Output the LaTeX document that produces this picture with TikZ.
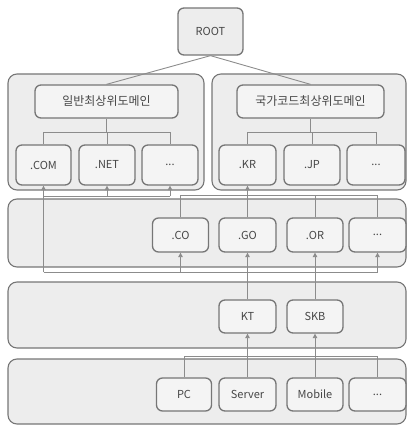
\documentclass[tikz,border=0pt]{standalone}
\usepackage{fontspec}
\setmainfont{Noto Sans CJK KR}
\usetikzlibrary{arrows.meta}
\definecolor{layerfill}{HTML}{EDEDED}
\definecolor{nodefill}{HTML}{F4F4F4}
\definecolor{edgegray}{HTML}{767676}
\definecolor{linegray}{HTML}{8C8C8C}

\begin{document}
\begin{tikzpicture}[x=1pt,y=-1pt,
  layer/.style={draw=edgegray,fill=layerfill,line width=1.1pt,rounded corners=9pt,inner sep=0pt},
  dom/.style={draw=edgegray,fill=nodefill,line width=1.3pt,rounded corners=6pt,inner sep=0pt,
    minimum width=56pt,minimum height=34pt,font=\fontsize{11}{13}\selectfont,text=black!72},
  head/.style={dom,font=\fontsize{12}{14}\selectfont},
  link/.style={draw=linegray,line width=0.9pt},
  up/.style={link,-{Triangle[width=4.5pt,length=4.5pt]}}]
\useasboundingbox (0,0) rectangle (407,425);
\node[layer,minimum width=196pt,minimum height=116pt] (gbox) at (106,132) {};
\node[layer,minimum width=194pt,minimum height=116pt] (cbox) at (309,132) {};
\node[layer,minimum width=398pt,minimum height=68pt] (slayer) at (207,233) {};
\node[layer,minimum width=398pt,minimum height=66pt] (ilayer) at (207,315) {};
\node[layer,minimum width=398pt,minimum height=65pt] (dlayer) at (207,391.5) {};
\coordinate (hbus) at (0,132);
\coordinate (tbus) at (0,195);
\coordinate (gup) at (0,196);
\coordinate (cbus) at (0,272);
\coordinate (dbus) at (0,356);
\node[dom,minimum width=65pt,minimum height=47pt,fill=layerfill] (root) at (210.5,31.5) {ROOT};
\node[head,minimum width=143pt,minimum height=33pt] (ghead) at (106.5,101.5) {일반최상위도메인};
\node[head,minimum width=147pt,minimum height=33pt] (chead) at (310.5,101.5) {국가코드최상위도메인};
\node[dom,minimum width=55pt,minimum height=40pt] (com) at (43.5,165) {.COM};
\node[dom,minimum height=40pt] (net) at (107,165) {.NET};
\node[dom,minimum height=40pt] (gdots) at (170,165) {...};
\node[dom,minimum width=57pt,minimum height=40pt] (kr) at (247.5,165) {.KR};
\node[dom,minimum height=40pt] (jp) at (312,165) {.JP};
\node[dom,minimum width=58pt,minimum height=40pt] (cdots) at (376,165) {...};
\node[dom] (co) at (180.5,235) {.CO};
\node[dom,minimum width=57pt] (go) at (247.5,235) {.GO};
\node[dom] (or) at (315,235) {.OR};
\node[dom,minimum width=57pt] (sdots) at (377.5,235) {...};
\node[dom,minimum width=57pt,minimum height=33pt] (kt) at (247.5,316.5) {KT};
\node[dom,minimum height=33pt] (skb) at (315,316.5) {SKB};
\node[dom,minimum width=55pt,minimum height=33pt] (pc) at (184,394.5) {PC};
\node[dom,minimum width=57pt,minimum height=33pt] (server) at (247.5,394.5) {Server};
\node[dom,minimum height=33pt] (mobile) at (315,394.5) {Mobile};
\node[dom,minimum width=57pt,minimum height=33pt] (ddots) at (377.5,394.5) {...};
\draw[link] (root.south) -- (ghead.north);
\draw[link] (root.south) -- (chead.north);
\draw[link] (ghead.south) -- (hbus -| ghead.south);
\draw[link] (com.north) |- (hbus -| gdots.north) -- (gdots.north);
\draw[link] (net.north) -- (hbus -| net.north);
\draw[link] (chead.south) -- (hbus -| chead.south);
\draw[link] (kr.north) |- (hbus -| cdots.north) -- (cdots.north);
\draw[link] (jp.north) -- (hbus -| jp.north);
\draw[link] (co.north) |- (tbus -| sdots.north) -- (sdots.north);
\draw[link] (or.north) -- (tbus -| or.north);
\draw[up] (go.north) -- (kr.south);
\draw[link] (gup -| com.south) -- (gup -| gdots.south);
\draw[up] (gup -| net.south) -- (net.south);
\draw[up] (gup -| gdots.south) -- (gdots.south);
\draw[up] (cbus -| com.south) -- (com.south);
\draw[link] (cbus -| com.south) -- (cbus -| sdots.south);
\draw[up] (cbus -| co.south) -- (co.south);
\draw[up] (cbus -| sdots.south) -- (sdots.south);
\draw[up] (kt.north) -- (go.south);
\draw[up] (skb.north) -- (or.south);
\draw[link] (pc.north) |- (dbus -| ddots.north) -- (ddots.north);
\draw[up] (server.north) -- (kt.south);
\draw[up] (mobile.north) -- (skb.south);
\end{tikzpicture}
\end{document}
